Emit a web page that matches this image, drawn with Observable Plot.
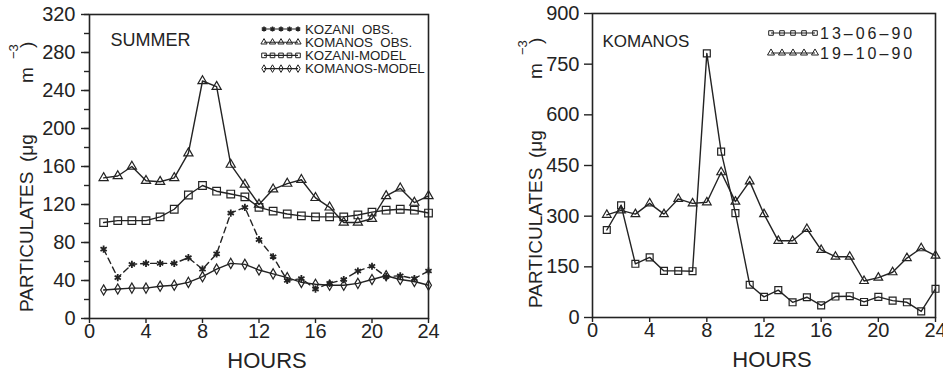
<!DOCTYPE html>
<html><head><meta charset="utf-8">
<script src="https://cdn.jsdelivr.net/npm/d3@7"></script>
<script src="https://cdn.jsdelivr.net/npm/@observablehq/plot@0.6"></script>
<style>
body{margin:0;background:#fff;}
#wrap{position:relative;width:943px;height:376px;overflow:hidden;background:#fff;}
#wrap svg{position:absolute;top:0;}
</style></head><body><div id="wrap"></div>
<script>
// ---- data ----
const hours = [1,2,3,4,5,6,7,8,9,10,11,12,13,14,15,16,17,18,19,20,21,22,23,24];
// Left panel (SUMMER)
const kozaniObs    = [73, 43, 57, 58, 58, 58, 64, 52, 68, 111, 117, 83, 65, 40, 42, 31, 37, 41, 50, 55, 44, 45, 42, 50];
const komanosObs   = [148, 150, 160, 145, 144, 148, 174, 250, 244, 162, 141, 120, 136, 142, 146, 127, 117, 101, 101, 105, 129, 137, 122, 129];
const kozaniModel  = [101, 103, 103, 103, 107, 115, 130, 140, 134, 131, 128, 117, 113, 110, 108, 107, 107, 107, 109, 112, 114, 115, 114, 111];
const komanosModel = [30, 31, 32, 32, 34, 35, 38, 44, 52, 58, 57, 51, 47, 43, 38, 36, 35, 35, 37, 41, 45, 41, 39, 35];
// Right panel (KOMANOS)
const day130690 = [259, 332, 159, 178, 138, 138, 137, 782, 491, 309, 97, 61, 81, 45, 60, 36, 62, 63, 46, 61, 50, 45, 18, 85];
const day191090 = [304, 317, 306, 338, 306, 351, 338, 341, 430, 343, 403, 306, 227, 227, 262, 200, 180, 180, 108, 118, 134, 176, 205, 183];
// ticks
const xTicks = [0, 4, 8, 12, 16, 20, 24];
const yTicksLeft = [0, 40, 80, 120, 160, 200, 240, 280, 320];
const yTicksLeftMinor = [0, 20, 40, 60, 80, 100, 120, 140, 160, 180, 200, 220, 240, 260, 280, 300, 320];
const yTicksRight = [0, 150, 300, 450, 600, 750, 900];
// labels
const leftLegend = ["KOZANI  OBS.", "KOMANOS  OBS.", "KOZANI-MODEL", "KOMANOS-MODEL"];
const rightLegend = ["13\u201306\u201390", "19\u201310\u201390"];
const yTitleParts = ["PARTICULATES", "(\u03BCg", "m", "\u22123", ")"];

const INK = "#232323";
const FONT = "'Liberation Sans', Arial, sans-serif";
const rows = vals => hours.map((h, i) => ({hour: h, value: vals[i]}));

function series(vals, symbol, r, dash) {
  const d = rows(vals);
  return [
    Plot.line(d, {x: "hour", y: "value", stroke: INK, strokeWidth: 1.4, strokeDasharray: dash || null}),
    Plot.dot(d, {x: "hour", y: "value", symbol, r, stroke: INK, fill: "none", strokeWidth: symbol === "asterisk" ? 1.8 : 1.2})
  ];
}

const hoursLabel = Plot.text(["HOURS"], {text: d => d, frameAnchor: "bottom", lineAnchor: "bottom", dy: 49, dx: 8, fontSize: 22, fill: INK});

const left = Plot.plot({
  width: 470, height: 376, marginLeft: 89, marginRight: 42, marginTop: 14, marginBottom: 58,
  style: {fontFamily: FONT, fontSize: "20px", color: INK, background: "transparent", overflow: "visible"},
  x: {domain: [0, 24]}, y: {domain: [0, 320]},
  marks: [
    Plot.axisY({ticks: yTicksLeftMinor, tickSize: 5, tickFormat: () => "", label: null, strokeWidth: 1.4}),
    Plot.axisY({ticks: yTicksLeft, tickSize: 8, tickPadding: 6, label: null, strokeWidth: 1.4, fontSize: 20}),
    Plot.axisX({ticks: xTicks, tickSize: 5, tickPadding: 0, label: null, strokeWidth: 1.4, fontSize: 20}),
    Plot.frame({stroke: INK, strokeWidth: 1.6}),
    ...series(komanosObs, "triangle", 3.4),
    ...series(kozaniModel, "square", 4.3),
    ...series(kozaniObs, "asterisk", 3.4, "6,4"),
    ...series(komanosModel, "diamond", 3.1),
    Plot.text(["SUMMER"], {text: d => d, frameAnchor: "top-left", textAnchor: "start", lineAnchor: "bottom", dx: 21, dy: 31, fontSize: 18, fill: INK}),
    hoursLabel
  ]
});

const right = Plot.plot({
  width: 473, height: 376, marginLeft: 122, marginRight: 8, marginTop: 13, marginBottom: 59,
  style: {fontFamily: FONT, fontSize: "20px", color: INK, background: "transparent", overflow: "visible"},
  x: {domain: [0, 24]}, y: {domain: [0, 900]},
  marks: [
    Plot.axisY({ticks: yTicksRight, tickSize: 8, tickPadding: 5, label: null, strokeWidth: 1.4, fontSize: 20}),
    Plot.axisX({ticks: xTicks, tickSize: 5, tickPadding: 0, label: null, strokeWidth: 1.4, fontSize: 20}),
    Plot.frame({stroke: INK, strokeWidth: 1.6}),
    ...series(day191090, "triangle", 3.2),
    ...series(day130690, "square", 3.9),
    Plot.text(["KOMANOS"], {text: d => d, frameAnchor: "top-left", textAnchor: "start", lineAnchor: "bottom", dx: 10, dy: 33, fontSize: 17, fill: INK}),
    hoursLabel
  ]
});

const wrap = document.getElementById("wrap");
left.style.left = "0px";
right.style.left = "470px";
wrap.appendChild(left);
wrap.appendChild(right);

// ---- y-axis titles (rotated pieces, superscript raised) ----
function yTitle(svg, baseX, startY) {
  const g = d3.select(svg).append("g")
    .attr("fill", INK).attr("font-family", FONT).attr("text-anchor", "start");
  const pieces = [
    {t: yTitleParts[0], at: 0,   shift: 0,   fs: 19},
    {t: yTitleParts[1], at: 150, shift: 0,   fs: 19},
    {t: yTitleParts[2], at: 229, shift: 0,   fs: 19},
    {t: yTitleParts[3], at: 253, shift: -15, fs: 13},
    {t: yTitleParts[4], at: 264, shift: 0,   fs: 19}
  ];
  pieces.forEach(p => {
    g.append("text")
      .attr("transform", `translate(${baseX + p.shift},${startY - p.at}) rotate(-90)`)
      .attr("font-size", p.fs)
      .text(p.t);
  });
}
yTitle(left, 33, 312);
yTitle(right, 72, 308);

// ---- legends ----
const symbolMap = {asterisk: d3.symbolAsterisk, triangle: d3.symbolTriangle, square: d3.symbolSquare, diamond: d3.symbolDiamond};
function legend(svg, items, opt) {
  const g = d3.select(svg).append("g");
  items.forEach((it, i) => {
    const cy = opt.y0 + i * opt.dy;
    g.append("line").attr("x1", opt.x0).attr("x2", opt.x0 + (opt.n - 1) * opt.step)
      .attr("y1", cy).attr("y2", cy).attr("stroke", INK).attr("stroke-width", 1.1);
    for (let k = 0; k < opt.n; k++) {
      g.append("path")
        .attr("d", d3.symbol(symbolMap[it.symbol], Math.PI * it.r * it.r)())
        .attr("transform", `translate(${opt.x0 + k * opt.step},${cy})`)
        .attr("fill", "none").attr("stroke", INK).attr("stroke-width", it.symbol === "asterisk" ? 1.5 : 1);
    }
    g.append("text").attr("x", opt.tx).attr("y", cy + opt.fs * 0.36)
      .attr("text-anchor", "start")
      .attr("font-family", FONT).attr("font-size", opt.fs).attr("fill", INK)
      .attr("letter-spacing", opt.ls || 0)
      .attr("xml:space", "preserve").style("white-space", "pre")
      .text(it.label);
  });
}
legend(left, [
  {label: leftLegend[0], symbol: "asterisk", r: 2.4},
  {label: leftLegend[1], symbol: "triangle", r: 2.3},
  {label: leftLegend[2], symbol: "square", r: 2.6},
  {label: leftLegend[3], symbol: "diamond", r: 2.3}
], {x0: 264, step: 8.5, n: 5, y0: 29, dy: 13.2, tx: 305, fs: 13.3});
legend(right, [
  {label: rightLegend[0], symbol: "square", r: 2.6},
  {label: rightLegend[1], symbol: "triangle", r: 2.6}
], {x0: 301, step: 11, n: 5, y0: 33, dy: 20, tx: 350, fs: 16, ls: 3});
</script></body></html>
